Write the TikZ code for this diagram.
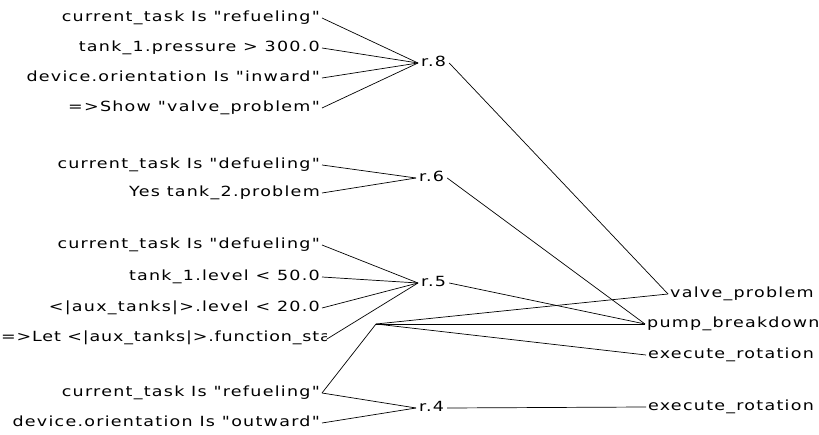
\documentclass[tikz,border=0pt]{standalone}
\usepackage{fontspec}
\newfontfamily\genevafont{DejaVu Sans}[FakeStretch=1.25,LetterSpace=9]
\newfontfamily\genevanarrow{DejaVu Sans}[FakeStretch=1.25,LetterSpace=6]
\begin{document}
\begin{tikzpicture}[x=1pt,y=-1pt,
  lbl/.style={font=\genevafont\fontsize{14}{16}\selectfont, inner sep=0pt, inner xsep=2pt, text height=10pt, text depth=3pt},
  rule/.style={lbl, anchor=west, inner xsep=3pt},
  conn/.style={line width=0.7pt, black}]
\useasboundingbox (0,0) rectangle (819,435);
% left condition labels
\node[lbl,anchor=east] (a1) at (322,18) {current\_task Is "refueling"};
\node[lbl,anchor=east] (a2) at (322,48) {tank\_1.pressure > 300.0};
\node[lbl,anchor=east] (a3) at (322,78) {device.orientation Is "inward"};
\node[lbl,anchor=east] (a4) at (322,108) {=>Show "valve\_problem"};
\node[lbl,anchor=east] (b1) at (322,165) {current\_task Is "defueling"};
\node[lbl,anchor=east] (b2) at (322,193) {Yes tank\_2.problem};
\node[lbl,anchor=east] (c1) at (322,245) {current\_task Is "defueling"};
\node[lbl,anchor=east] (c2) at (322,277) {tank\_1.level < 50.0};
\node[lbl,anchor=east] (c3) at (322,308) {<|aux\_tanks|>.level < 20.0};
\begin{scope}
\clip (0,320) rectangle (326,356);
\node[lbl,anchor=west,inner xsep=0pt,font=\genevanarrow\fontsize{14}{16}\selectfont] (c4) at (1,338) {=>Let <|aux\_tanks|>.function\_sta};
\end{scope}
\coordinate (c4e) at (327,339);
\node[lbl,anchor=east] (d1) at (322,393) {current\_task Is "refueling"};
\node[lbl,anchor=east] (d2) at (322,423) {device.orientation Is "outward"};
% rule nodes
\node[rule] (r8) at (418,63) {r.8};
\node[rule] (r6) at (416,178) {r.6};
\node[rule] (r5) at (418,283) {r.5};
\node[rule] (r4) at (416,408) {r.4};
\coordinate (rx) at (376,324);
% conclusions
\node[lbl,anchor=west] (vp) at (668,294) {valve\_problem};
\node[lbl,anchor=west] (pb) at (645,324) {pump\_breakdown};
\node[lbl,anchor=west] (er1) at (646,355) {execute\_rotation};
\node[lbl,anchor=west] (er2) at (646,407) {execute\_rotation};
% connectors
\foreach \n in {a1,a2,a3,a4} \draw[conn] (\n.east) -- (r8.west);
\foreach \n in {b1,b2} \draw[conn] (\n.east) -- (r6.west);
\foreach \n in {c1,c2,c3} \draw[conn] (\n.east) -- (r5.west);
\draw[conn] (c4e) -- (r5.west);
\foreach \n in {d1,d2} \draw[conn] (\n.east) -- (r4.west);
\draw[conn] (d1.east) -- (rx);
\draw[conn] (r8.east) -- (vp.west);
\draw[conn] (r6.east) -- (pb.west);
\draw[conn] (r5.east) -- (pb.west);
\draw[conn] (rx) -- (vp.west);
\draw[conn] (rx) -- (pb.west);
\draw[conn] (rx) -- (er1.west);
\draw[conn] (r4.east) -- (er2.west);
\end{tikzpicture}
\end{document}
